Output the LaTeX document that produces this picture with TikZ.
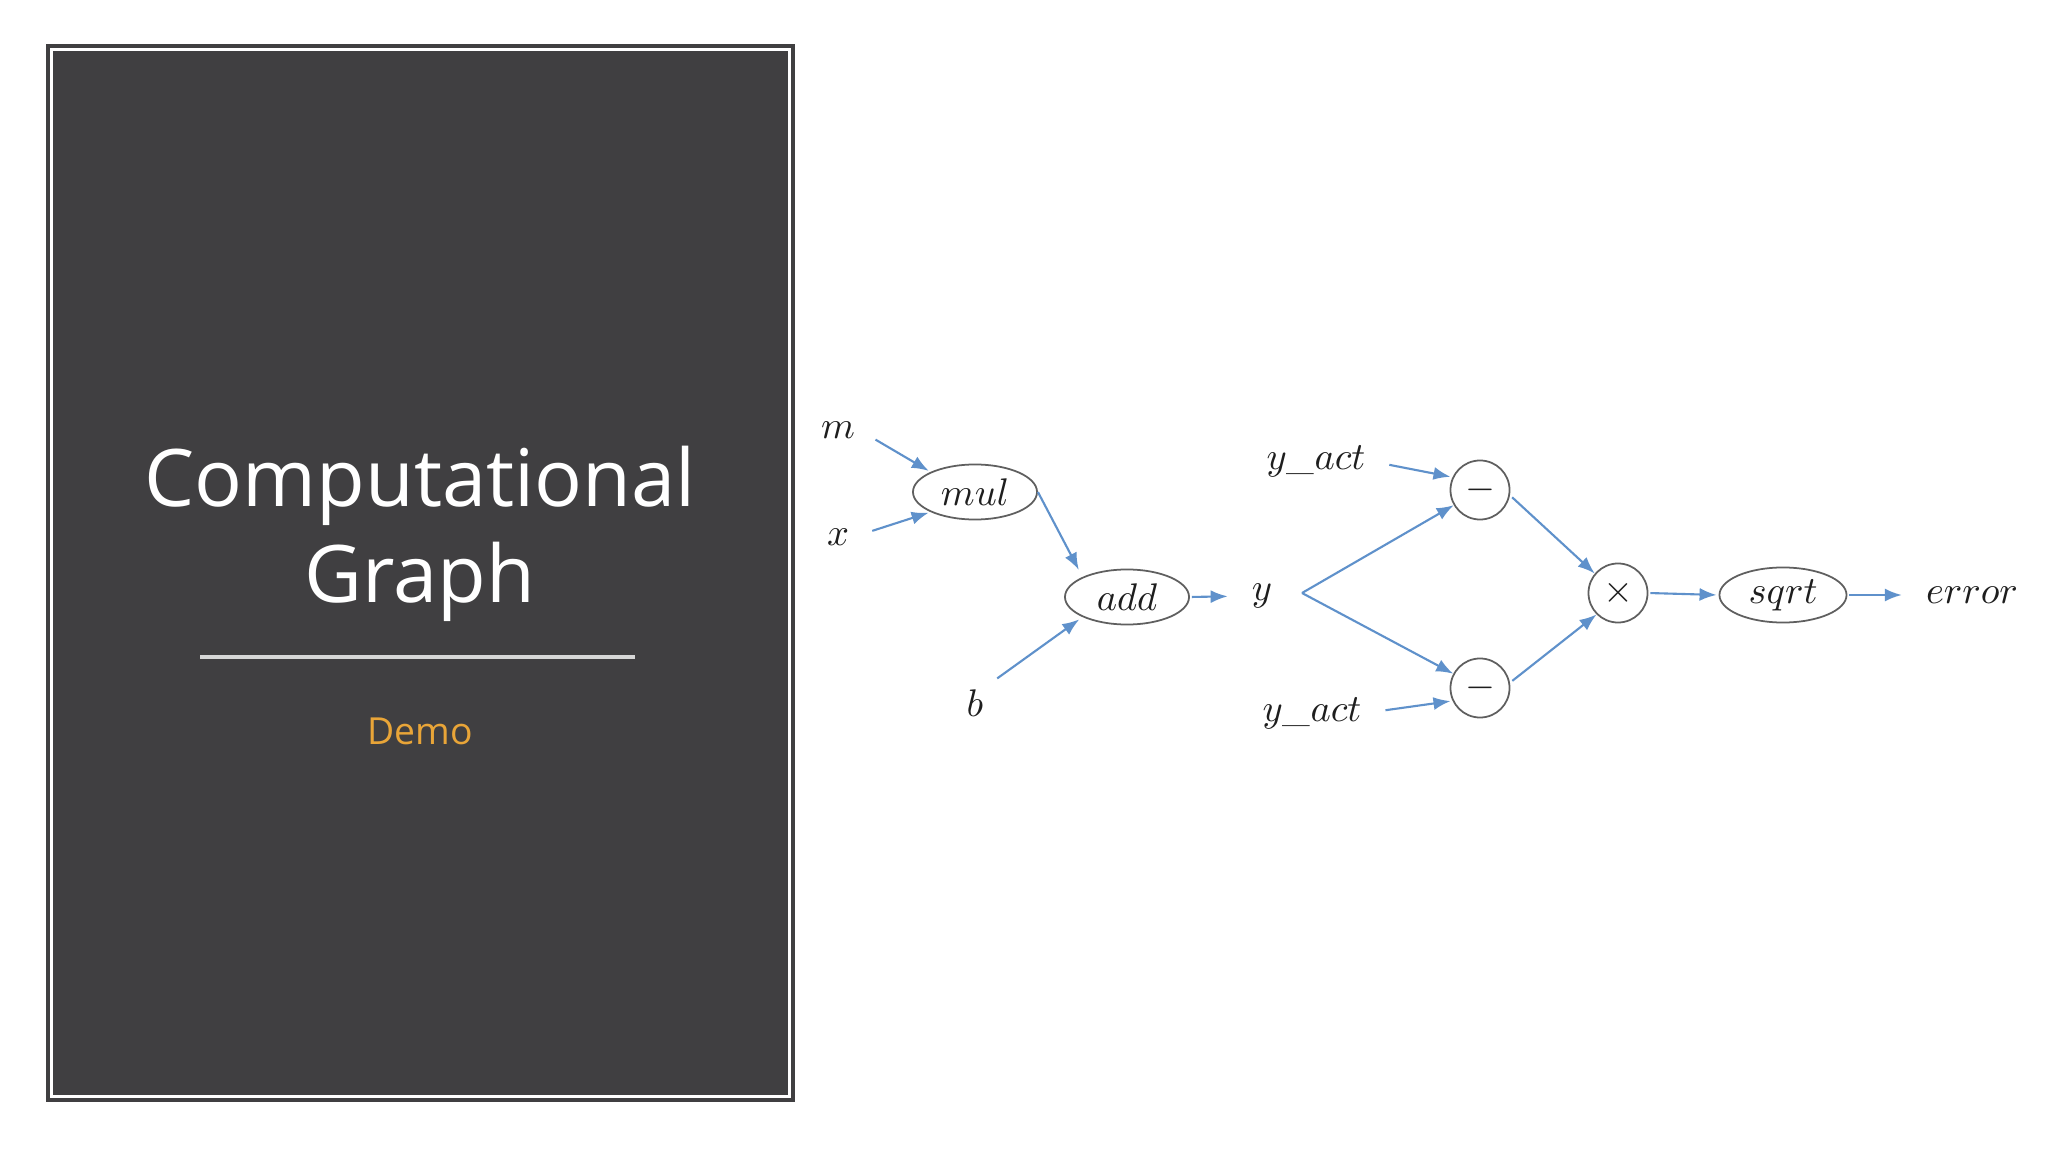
\documentclass[tikz,border=0pt]{standalone}
\usepackage{fontspec}
\newfontfamily\titlefont{Open Sans}
\usetikzlibrary{arrows.meta,shapes.geometric}
\definecolor{panel}{RGB}{64,63,65}
\definecolor{rulecol}{RGB}{215,215,215}
\definecolor{democol}{RGB}{233,165,56}
\definecolor{arrowblue}{RGB}{95,145,203}
\definecolor{outline}{RGB}{95,95,95}
\definecolor{inktext}{RGB}{30,30,30}
\tikzset{
  lbl/.style={inner sep=1pt, text=inktext, font=\fontsize{10.5}{12}\selectfont},
  opell/.style={ellipse, draw=outline, line width=0.5pt, minimum width=1.24cm, minimum height=0.55cm, inner sep=0pt, text=inktext, font=\fontsize{10.5}{12}\selectfont},
  opcirc/.style={circle, draw=outline, line width=0.5pt, minimum size=0.59cm, inner sep=0pt, text=inktext, font=\fontsize{10.5}{12}\selectfont},
  flow/.style={draw=arrowblue, line width=0.6pt, -{Latex[length=0.17cm,width=0.13cm]}},
}
\begin{document}
\begin{tikzpicture}[x=0.01cm,y=-0.01cm]
\useasboundingbox (0,0) rectangle (2048,1152);
\fill[white] (0,0) rectangle (2048,1152);
% left panel
\fill[panel] (46,44) rectangle (795,1102);
\draw[white, line width=0.03cm] (51.5,49.5) rectangle (789.5,1096.5);
\node[font=\titlefont\fontsize{22.6}{28}\selectfont, text=white, anchor=base] (title1) at (420,507) {Computational};
\node[font=\titlefont\fontsize{22.6}{28}\selectfont, text=white, anchor=base] (title2) at (420,603) {Graph};
\draw[rulecol, line width=0.03cm] (200,657) -- (635,657);
\node[font=\titlefont\fontsize{10.6}{14}\selectfont, text=democol, anchor=base] (demo) at (420,744) {Demo};
% graph nodes
\node[lbl] (m) at (838,430) {$m$};
\node[lbl] (x) at (838,537) {$x$};
\node[lbl] (b) at (975,703) {$b$};
\node[opell] (mul) at (975,492) {$mul$};
\node[opell] (add) at (1127,597) {$add$};
\node[lbl] (y) at (1262,596) {$y$};
\node[lbl] (ya1) at (1316,461) {$y\_act$};
\node[lbl] (ya2) at (1312,713) {$y\_act$};
\node[opcirc] (mt) at (1480,490) {$-$};
\node[opcirc] (mb) at (1480,688) {$-$};
\node[opcirc] (tm) at (1618,593) {$\times$};
\node[opell, minimum width=1.27cm] (sq) at (1783,595) {$sqrt$};
\node[lbl] (err) at (1972,595) {$error$};
\coordinate (yv) at (1302,593);
% connectors
\draw[flow, shorten <=0.19cm, shorten >=0.02cm] (m.east) -- (mul.north west);
\draw[flow, shorten <=0.2cm, shorten >=0.02cm] (x.east) -- (mul.south west);
\draw[flow, shorten >=0.08cm] (mul.east) -- (add.north west);
\draw[flow, shorten <=0.12cm, shorten >=0.04cm] (b.north east) -- (add.south west);
\draw[flow, shorten <=0.02cm, shorten >=0.2cm] (add.east) -- (y.west);
\draw[flow] (yv) -- (mt);
\draw[flow] (yv) -- (mb);
\draw[flow, shorten <=0.2cm, shorten >=0.02cm] (ya1.east) -- (mt.155);
\draw[flow, shorten <=0.2cm, shorten >=0.02cm] (ya2.east) -- (mb.205);
\draw[flow, shorten <=0.03cm] (mt.-10) -- (tm.140);
\draw[flow, shorten <=0.03cm] (mb.10) -- (tm.225);
\draw[flow, shorten <=0.02cm, shorten >=0.02cm] (tm.east) -- (sq.west);
\draw[flow, shorten <=0.02cm, shorten >=0.2cm] (sq.east) -- (err.west);
\end{tikzpicture}
\end{document}
